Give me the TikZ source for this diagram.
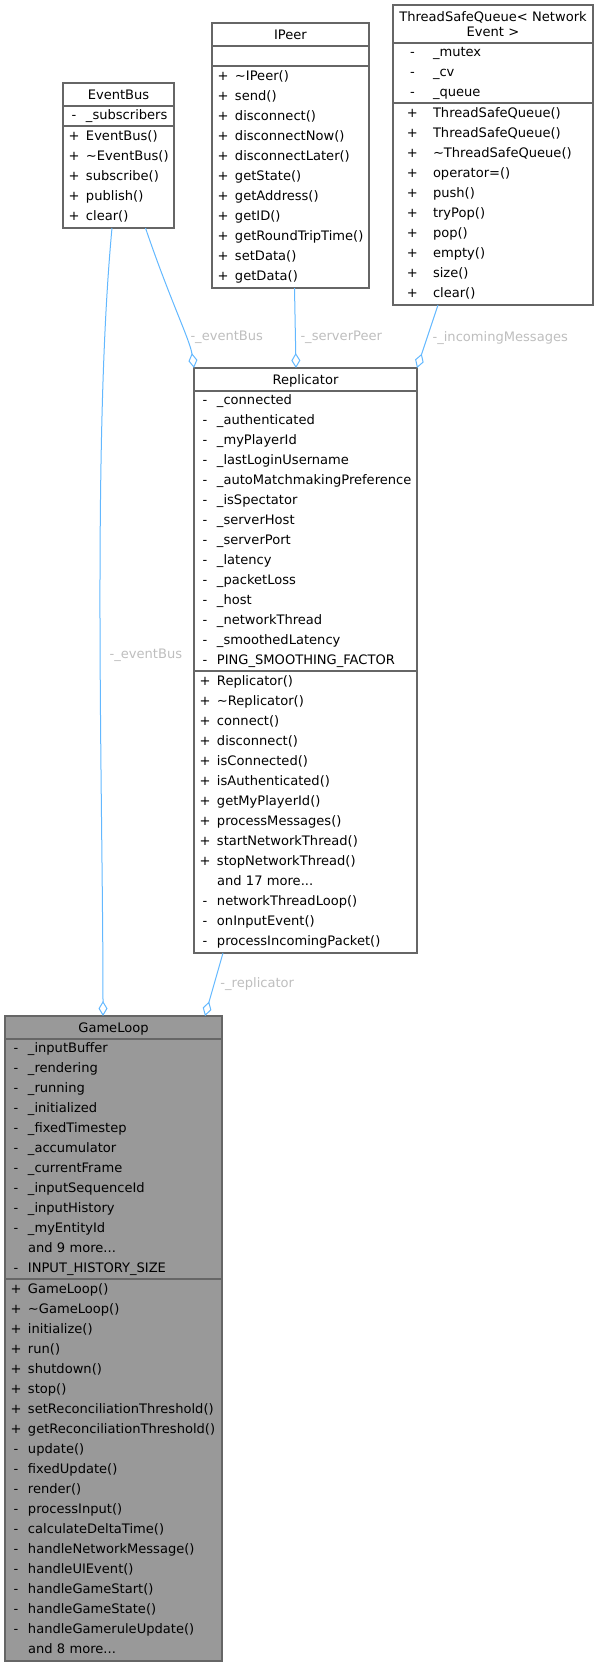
\documentclass[tikz,border=0pt]{standalone}
\usepackage{fontspec}
\usepackage{xcolor}
\usepackage{tikz}
\usetikzlibrary{arrows.meta,positioning,calc}

\newfontfamily\umlfont{DejaVu Sans}
\definecolor{edgeblue}{HTML}{63B8FF}
\definecolor{boxline}{HTML}{666666}
\definecolor{mainfill}{HTML}{999999}
\definecolor{lblgrey}{HTML}{BEBEBE}

\newlength\visx \newlength\namex
\setlength\visx{8.25pt}\setlength\namex{9pt}
\newcommand\rowstrut{\rule[-4.7pt]{0pt}{15pt}}
\newcommand\mb[2]{\hspace*{\visx}\makebox[0pt]{#1}\hspace*{\namex}#2\rowstrut}
\newcommand\ttl[1]{\rule{0pt}{12.6pt}#1\rule[-4.65pt]{0pt}{4.65pt}}

\begin{document}
\begin{tikzpicture}[
  x=0.75pt,y=-0.75pt,
  cls/.style={draw=boxline,fill=white,line width=0.8pt,inner xsep=0pt,
    inner ysep=0pt,outer sep=0pt,text width=#1},
  clsttl/.style={cls=#1,align=center,anchor=north west,
    font={\umlfont\fontsize{9.8pt}{11.25pt}\selectfont}},
  clsmem/.style={cls=#1,align=left,
    font={\umlfont\fontsize{9.8pt}{15pt}\selectfont}},
  clsops/.style={clsmem=#1,inner ysep=0.75pt},
  widecols/.style={execute at begin node={\setlength\visx{14.6pt}\setlength\namex{15.4pt}}},
  assoc/.style={draw=edgeblue,line width=0.75pt,
    -{Diamond[open,length=11.25pt,width=6.75pt]}},
  edgelbl/.style={font={\umlfont\fontsize{9.8pt}{11pt}\selectfont},
    text=lblgrey,inner sep=0pt}
]
\useasboundingbox (0,0) rectangle (599,1667);

\node[clsttl=83.25pt] (eventbus) at (63,83) {\ttl{EventBus}};
\node[clsmem=83.25pt,below=0pt of eventbus] (eventbusAttr) {\mb{-}{\_subscribers}};
\node[clsops=83.25pt,below=0pt of eventbusAttr] (eventbusOps) {%
\mb{+}{EventBus()}\\
\mb{+}{\textasciitilde EventBus()}\\
\mb{+}{subscribe()}\\
\mb{+}{publish()}\\
\mb{+}{clear()}};

\node[clsttl=117.75pt] (ipeer) at (212,23) {\ttl{IPeer}};
\node[clsmem=117.75pt,below=0pt of ipeer] (ipeerAttr) {\rowstrut};
\node[clsops=117.75pt,below=0pt of ipeerAttr] (ipeerOps) {%
\mb{+}{\textasciitilde IPeer()}\\
\mb{+}{send()}\\
\mb{+}{disconnect()}\\
\mb{+}{disconnectNow()}\\
\mb{+}{disconnectLater()}\\
\mb{+}{getState()}\\
\mb{+}{getAddress()}\\
\mb{+}{getID()}\\
\mb{+}{getRoundTripTime()}\\
\mb{+}{setData()}\\
\mb{+}{getData()}};

\node[clsttl=150pt] (tsq) at (393,5) {\ttl{ThreadSafeQueue< Network\\Event >}};
\node[clsmem=150pt,widecols,below=0pt of tsq] (tsqAttr) {%
\mb{-}{\_mutex}\\
\mb{-}{\_cv}\\
\mb{-}{\_queue}};
\node[clsops=150pt,widecols,below=0pt of tsqAttr] (tsqOps) {%
\mb{+}{ThreadSafeQueue()}\\
\mb{+}{ThreadSafeQueue()}\\
\mb{+}{\textasciitilde ThreadSafeQueue()}\\
\mb{+}{operator=()}\\
\mb{+}{push()}\\
\mb{+}{tryPop()}\\
\mb{+}{pop()}\\
\mb{+}{empty()}\\
\mb{+}{size()}\\
\mb{+}{clear()}};

\node[clsttl=167.25pt] (replicator) at (194,368) {\ttl{Replicator}};
\node[clsmem=167.25pt,below=0pt of replicator] (replicatorAttr) {%
\mb{-}{\_connected}\\
\mb{-}{\_authenticated}\\
\mb{-}{\_myPlayerId}\\
\mb{-}{\_lastLoginUsername}\\
\mb{-}{\_autoMatchmakingPreference}\\
\mb{-}{\_isSpectator}\\
\mb{-}{\_serverHost}\\
\mb{-}{\_serverPort}\\
\mb{-}{\_latency}\\
\mb{-}{\_packetLoss}\\
\mb{-}{\_host}\\
\mb{-}{\_networkThread}\\
\mb{-}{\_smoothedLatency}\\
\mb{-}{PING\_SMOOTHING\_FACTOR}};
\node[clsops=167.25pt,below=0pt of replicatorAttr] (replicatorOps) {%
\mb{+}{Replicator()}\\
\mb{+}{\textasciitilde Replicator()}\\
\mb{+}{connect()}\\
\mb{+}{disconnect()}\\
\mb{+}{isConnected()}\\
\mb{+}{isAuthenticated()}\\
\mb{+}{getMyPlayerId()}\\
\mb{+}{processMessages()}\\
\mb{+}{startNetworkThread()}\\
\mb{+}{stopNetworkThread()}\\
\mb{}{and 17 more...}\\
\mb{-}{networkThreadLoop()}\\
\mb{-}{onInputEvent()}\\
\mb{-}{processIncomingPacket()}};

\node[clsttl=162.75pt,fill=mainfill] (gameloop) at (5,1016) {\ttl{GameLoop}};
\node[clsmem=162.75pt,fill=mainfill,below=0pt of gameloop] (gameloopAttr) {%
\mb{-}{\_inputBuffer}\\
\mb{-}{\_rendering}\\
\mb{-}{\_running}\\
\mb{-}{\_initialized}\\
\mb{-}{\_fixedTimestep}\\
\mb{-}{\_accumulator}\\
\mb{-}{\_currentFrame}\\
\mb{-}{\_inputSequenceId}\\
\mb{-}{\_inputHistory}\\
\mb{-}{\_myEntityId}\\
\mb{}{and 9 more...}\\
\mb{-}{INPUT\_HISTORY\_SIZE}};
\node[clsops=162.75pt,fill=mainfill,below=0pt of gameloopAttr] (gameloopOps) {%
\mb{+}{GameLoop()}\\
\mb{+}{\textasciitilde GameLoop()}\\
\mb{+}{initialize()}\\
\mb{+}{run()}\\
\mb{+}{shutdown()}\\
\mb{+}{stop()}\\
\mb{+}{setReconciliationThreshold()}\\
\mb{+}{getReconciliationThreshold()}\\
\mb{-}{update()}\\
\mb{-}{fixedUpdate()}\\
\mb{-}{render()}\\
\mb{-}{processInput()}\\
\mb{-}{calculateDeltaTime()}\\
\mb{-}{handleNetworkMessage()}\\
\mb{-}{handleUIEvent()}\\
\mb{-}{handleGameStart()}\\
\mb{-}{handleGameState()}\\
\mb{-}{handleGameruleUpdate()}\\
\mb{}{and 8 more...}};

\draw[assoc] ($(eventbusOps.south west)+(49,0)$) .. controls (92,440) and (103,800) ..
  ($(gameloop.north west)+(98,0)$)
  node[edgelbl,pos=.54,right=6.75pt] (lblEventBusB) {-\_eventBus};
\draw[assoc] ($(eventbusOps.south west)+(82.5,0)$) .. controls (170,300) and (190,340) ..
  (replicator.north west)
  node[edgelbl,pos=.68,right=3.3pt] (lblEventBusA) {-\_eventBus};
\draw[assoc] ($(ipeerOps.south west)+(82.5,0)$) -- ($(replicator.north west)+(102,0)$)
  node[edgelbl,pos=.61,right=3.45pt] (lblServerPeer) {-\_serverPeer};
\draw[assoc] ($(tsqOps.south west)+(45,0)$) -- (replicator.north east)
  node[edgelbl,pos=.52,right=3.75pt] (lblIncoming) {-\_incomingMessages};
\draw[assoc] ($(replicatorOps.south west)+(29,0)$) -- ($(gameloop.north west)+(200,0)$)
  node[edgelbl,pos=.49,right=4.35pt] (lblReplicator) {-\_replicator};
\end{tikzpicture}
\end{document}
